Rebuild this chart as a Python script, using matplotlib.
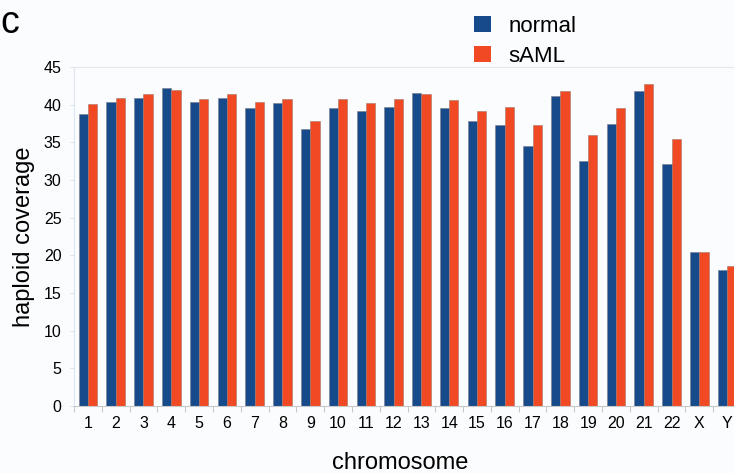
import numpy as np
import matplotlib.pyplot as plt
from matplotlib.patches import Patch

plt.rcParams['font.family'] = ['Liberation Sans', 'DejaVu Sans']

# haploid coverage per chromosome
chromosomes = ['1', '2', '3', '4', '5', '6', '7', '8', '9', '10', '11', '12',
               '13', '14', '15', '16', '17', '18', '19', '20', '21', '22', 'X', 'Y']
normal = [38.8, 40.3, 40.9, 42.2, 40.4, 40.9, 39.6, 40.2, 36.8, 39.5, 39.1, 39.7,
          41.5, 39.6, 37.8, 37.3, 34.5, 41.1, 32.5, 37.4, 41.8, 32.1, 20.4, 18.1]
saml = [40.1, 40.9, 41.4, 42.0, 40.7, 41.4, 40.4, 40.8, 37.8, 40.7, 40.2, 40.7,
        41.4, 40.6, 39.2, 39.7, 37.3, 41.8, 36.0, 39.5, 42.7, 35.5, 20.5, 18.6]
yticks = [0, 5, 10, 15, 20, 25, 30, 35, 40, 45]

col_normal = '#174a8b'
col_saml = '#f04923'
bg = '#fbfcfe'

W, H = 734, 473
fig = plt.figure(figsize=(W / 100, H / 100), dpi=100, facecolor=bg)
ax = fig.add_axes([74 / W, 67 / H, (741 - 74) / W, 339 / H], facecolor=bg)

x = np.arange(len(chromosomes))
bw = 0.335
ax.bar(x - bw / 2, normal, bw, color=col_normal, edgecolor='#7d7a86', lw=0.4)
ax.bar(x + bw / 2, saml, bw, color=col_saml, edgecolor='#a0786a', lw=0.4)

ax.set_xlim(-0.5, 23.5)
ax.set_ylim(0, 45)
ax.set_yticks(yticks)
ax.set_xticks(x)
ax.set_xticklabels(chromosomes)
ax.set_xticks(np.arange(-0.5, 24, 1), minor=True)
ax.tick_params(axis='x', which='major', length=0, pad=7, labelsize=11.5)
ax.tick_params(axis='x', which='minor', length=4, color='#c8c8c8', width=0.8)
ax.tick_params(axis='y', length=3, color='#dce3ec', pad=6, labelsize=11.5)

ax.spines['right'].set_visible(False)
ax.spines['top'].set_color('#e4e8ee')
ax.spines['left'].set_color('#dce6f0')
ax.spines['bottom'].set_color('#c8c8c8')

ax.set_ylabel('haploid coverage', fontsize=17, labelpad=6)
fig.text(400 / W, 1 - 469 / H, 'chromosome', fontsize=17, ha='center', va='baseline')
fig.text(0, 1 - 33 / H, 'c', fontsize=27, ha='left', va='baseline')

handles = [Patch(facecolor=col_normal, edgecolor='none'),
           Patch(facecolor=col_saml, edgecolor='none')]
fig.legend(handles, ['normal', 'sAML'], loc='upper left',
           bbox_to_anchor=(474 / W, 1 - 16 / H), frameon=False, fontsize=16,
           handlelength=0.75, handleheight=0.75, handletextpad=0.8,
           labelspacing=0.4, borderpad=0, borderaxespad=0)

fig.savefig('out.png', dpi=100, facecolor=bg)
